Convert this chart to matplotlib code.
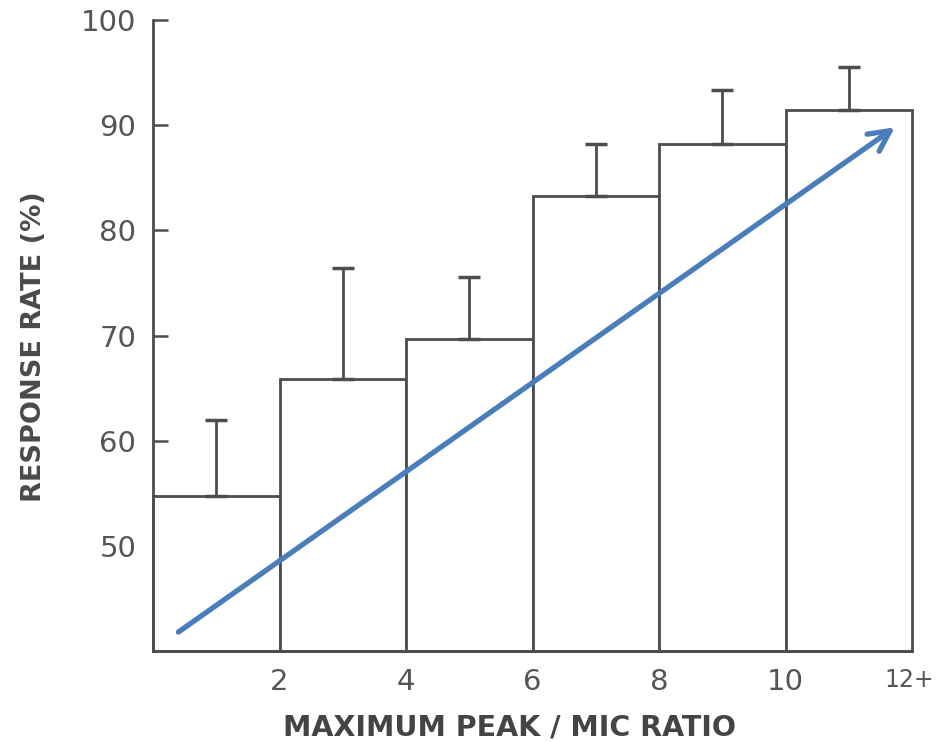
import numpy as np
import matplotlib
matplotlib.use('Agg')
import matplotlib.pyplot as plt
import matplotlib.transforms as mtransforms

# --- data ---
bin_left = [0, 2, 4, 6, 8, 10]
response_rate = [54.7, 65.9, 69.7, 83.3, 88.2, 91.4]
upper_err = [62.0, 76.4, 75.6, 88.2, 93.3, 95.5]
x_ticks = [2, 4, 6, 8, 10, 12]
x_labels = ['2', '4', '6', '8', '10', '12+']
y_ticks = [50, 60, 70, 80, 90, 100]
arrow_start = (0.4, 41.8)
arrow_end = (11.73, 89.8)

line_col = '#4d4d4d'
text_col = '#555555'

fig = plt.figure(figsize=(9.36, 7.42), dpi=100)
ax = fig.add_axes([0.1635, 0.1226, 0.8109, 0.8504])

bars = ax.bar(bin_left, np.array(response_rate) - 40, bottom=40, width=2, align='edge',
              facecolor='white', edgecolor=line_col, linewidth=2.0, zorder=2)
for b in bars:
    b.set_clip_on(False)

centers = np.array(bin_left) + 1
err_up = np.array(upper_err) - np.array(response_rate)
ax.errorbar(centers, response_rate, yerr=[np.zeros(len(err_up)), err_up],
            fmt='none', ecolor=line_col, elinewidth=2.0, capsize=8, capthick=2.5, zorder=3)

ax.annotate('', xy=arrow_end, xytext=arrow_start,
            arrowprops=dict(arrowstyle='->,head_length=1.5,head_width=0.75',
                            color='#4a7ebb', lw=3.8, shrinkA=0, shrinkB=0),
            zorder=5)

ax.set_xlim(0, 12)
ax.set_ylim(40, 100)
ax.spines['top'].set_visible(False)
ax.spines['right'].set_visible(False)
for s in ['left', 'bottom']:
    ax.spines[s].set_color(line_col)
    ax.spines[s].set_linewidth(2.0)

ax.set_yticks(y_ticks)
ax.set_yticklabels([str(v) for v in y_ticks])
ax.set_xticks(x_ticks)
ax.set_xticklabels(x_labels)
ax.tick_params(axis='y', direction='in', length=11, width=1.8, color=line_col,
               labelsize=21, labelcolor=text_col, pad=12)
ax.tick_params(axis='x', length=0, labelsize=21, labelcolor=text_col, pad=12)

# the "12+" label sits at the very edge in the reference, narrower
last = ax.get_xticklabels()[-1]
last.set_fontsize(17)
last.set_transform(last.get_transform() +
                   mtransforms.ScaledTranslation(-3 / 100, 0, fig.dpi_scale_trans))

ax.set_xlabel('MAXIMUM PEAK / MIC RATIO', fontsize=20.5, color='#444444',
              fontweight='bold', ha='center', va='center')
ax.xaxis.set_label_coords(0.470, -0.121)
ax.set_ylabel('RESPONSE RATE (%)', fontsize=19.5, color='#4a4a4a',
              fontweight='bold', ha='center', va='center')
ax.yaxis.set_label_coords(-0.157, 0.483)

fig.savefig('out.png', dpi=100, facecolor='white')
